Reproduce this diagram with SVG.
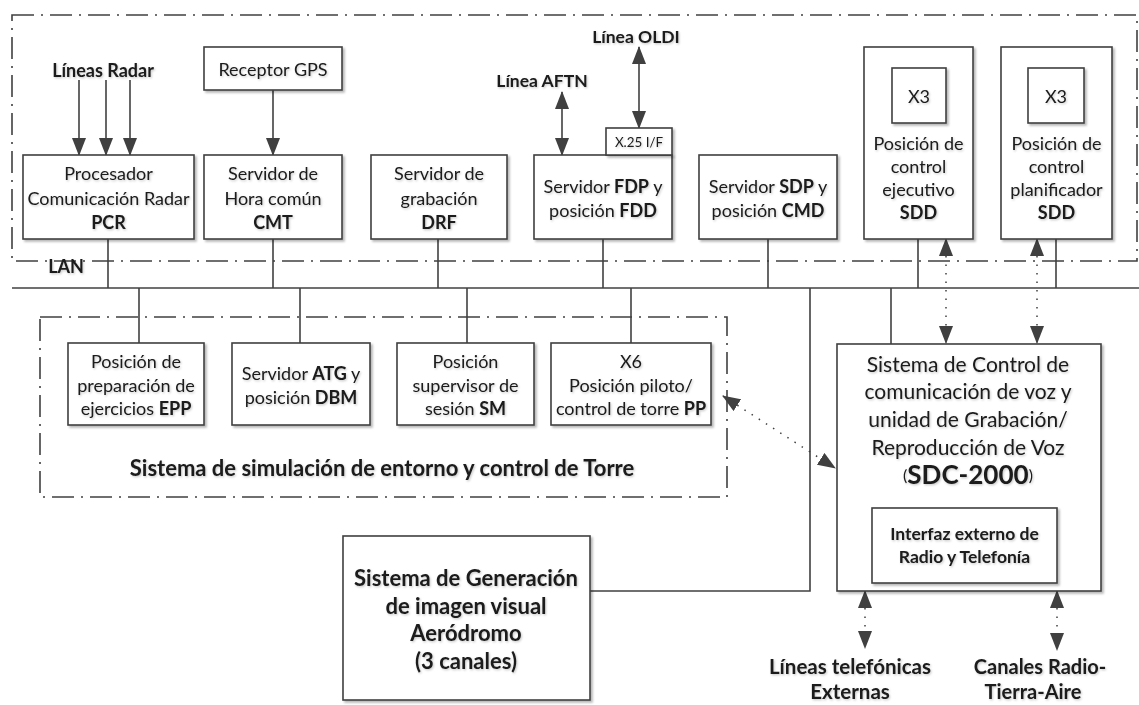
<svg xmlns="http://www.w3.org/2000/svg" width="1139" height="705" viewBox="0 0 1139 705">
  <defs>
    <filter id="sh" x="-10%" y="-10%" width="130%" height="130%">
      <feDropShadow dx="2" dy="2" stdDeviation="1.2" flood-color="#000" flood-opacity="0.28"/>
    </filter>
    <filter id="tsh" x="-5%" y="-20%" width="110%" height="150%">
      <feDropShadow dx="1" dy="1.2" stdDeviation="0.8" flood-color="#000" flood-opacity="0.22"/>
    </filter>
    <marker id="ah" markerUnits="userSpaceOnUse" markerWidth="18" markerHeight="14" refX="17" refY="7" orient="auto-start-reverse">
      <path d="M0,0 L18,7 L0,14 z" fill="#404040"/>
    </marker>
  </defs>
  <style>
    .box{fill:#fff;stroke:#404040;stroke-width:1.6;filter:url(#sh)}
    .grp{fill:none;stroke:#404040;stroke-width:1.6;stroke-dasharray:22 7 2 7}
    .ln{fill:none;stroke:#404040;stroke-width:1.6}
    .dot{fill:none;stroke:#404040;stroke-width:1.5;stroke-dasharray:1.5 7}
    text{font-family:Lato,"Liberation Sans",sans-serif;fill:#1a1a1a;text-anchor:middle;dominant-baseline:central;filter:url(#tsh)}
    .t{font-size:18px}
    .s{font-size:13.4px}
    .m{font-size:21px}
    .lb{font-size:17.5px;font-weight:bold}
    .big{font-size:22px;font-weight:bold}
    .ext{font-size:20.5px;font-weight:bold}
    .b{font-weight:bold}
  </style>

  <!-- grouping frames -->
  <rect class="grp" x="12" y="15" width="1125" height="246"/>
  <rect class="grp" x="40" y="317" width="687" height="180"/>
  <text x="66" y="266" class="lb" style="font-size:18px">LAN</text>
  <text x="382" y="467" class="big">Sistema de simulación de entorno y control de Torre</text>

  <!-- connectors -->
  <g id="connectors">
    <line class="ln" x1="12" y1="288" x2="1139" y2="288"/>
    <line class="ln" x1="108" y1="239" x2="108" y2="288"/>
    <line class="ln" x1="273" y1="239" x2="273" y2="288"/>
    <line class="ln" x1="438" y1="239" x2="438" y2="288"/>
    <line class="ln" x1="603" y1="239" x2="603" y2="288"/>
    <line class="ln" x1="768" y1="239" x2="768" y2="288"/>
    <line class="ln" x1="918" y1="239" x2="918" y2="288"/>
    <line class="ln" x1="1056" y1="239" x2="1056" y2="288"/>
    <line class="ln" x1="139" y1="288" x2="139" y2="343"/>
    <line class="ln" x1="300" y1="288" x2="300" y2="343"/>
    <line class="ln" x1="467" y1="288" x2="467" y2="343"/>
    <line class="ln" x1="631" y1="288" x2="631" y2="343"/>
    <line class="ln" x1="891" y1="288" x2="891" y2="344"/>
    <polyline class="ln" points="590,591 810,591 810,288"/>
    <!-- incoming lines -->
    <line class="ln" x1="79" y1="80" x2="79" y2="155" marker-end="url(#ah)"/>
    <line class="ln" x1="106" y1="80" x2="106" y2="155" marker-end="url(#ah)"/>
    <line class="ln" x1="130" y1="80" x2="130" y2="155" marker-end="url(#ah)"/>
    <line class="ln" x1="273" y1="90" x2="273" y2="155" marker-end="url(#ah)"/>
    <line class="ln" x1="562" y1="92" x2="562" y2="155" marker-start="url(#ah)" marker-end="url(#ah)"/>
    <line class="ln" x1="639" y1="47" x2="639" y2="128" marker-start="url(#ah)" marker-end="url(#ah)"/>
    <!-- voice links -->
    <line class="dot" x1="946" y1="239" x2="946" y2="343" marker-start="url(#ah)" marker-end="url(#ah)"/>
    <line class="dot" x1="1037" y1="239" x2="1037" y2="343" marker-start="url(#ah)" marker-end="url(#ah)"/>
    <line class="dot" x1="723" y1="396" x2="835" y2="468" marker-start="url(#ah)" marker-end="url(#ah)"/>
    <line class="dot" x1="865" y1="591" x2="865" y2="648" marker-start="url(#ah)" marker-end="url(#ah)"/>
    <line class="dot" x1="1057" y1="591" x2="1057" y2="650" marker-start="url(#ah)" marker-end="url(#ah)"/>
  </g>

  <!-- external labels -->
  <text x="103" y="70" class="lb" style="font-size:18px">Líneas Radar</text>
  <text x="542" y="80" class="lb">Línea AFTN</text>
  <text x="636" y="36" class="lb">Línea OLDI</text>
  <text x="850" y="666" class="ext">Líneas telefónicas</text>
  <text x="850" y="691" class="ext">Externas</text>
  <text x="1040" y="666" class="ext" style="font-size:20px">Canales Radio-</text>
  <text x="1033" y="691" class="ext" style="font-size:20px">Tierra-Aire</text>

  <g id="gps">
    <rect class="box" x="204" y="47" width="138" height="43"/>
    <text x="273" y="69" class="t">Receptor GPS</text>
  </g>
  <g id="pcr">
    <rect class="box" x="23" y="155" width="171" height="84"/>
    <text x="108.5" y="173" class="t">Procesador</text>
    <text x="108.5" y="198" class="t">Comunicación Radar</text>
    <text x="108.5" y="222" class="t b">PCR</text>
  </g>
  <g id="cmt">
    <rect class="box" x="204" y="155" width="138" height="84"/>
    <text x="273" y="173" class="t">Servidor de</text>
    <text x="273" y="198" class="t">Hora común</text>
    <text x="273" y="222" class="t b">CMT</text>
  </g>
  <g id="drf">
    <rect class="box" x="371" y="155" width="136" height="84"/>
    <text x="439" y="173" class="t">Servidor de</text>
    <text x="439" y="198" class="t">grabación</text>
    <text x="439" y="222" class="t b">DRF</text>
  </g>
  <g id="fdp">
    <rect class="box" x="534" y="155" width="138" height="84"/>
    <text x="603" y="186" class="t">Servidor <tspan class="b">FDP</tspan> y</text>
    <text x="603" y="210" class="t">posición <tspan class="b">FDD</tspan></text>
  </g>
  <g id="x25">
    <rect class="box" x="606" y="128" width="66" height="27"/>
    <text x="639" y="142" class="s">X.25 I/F</text>
  </g>
  <g id="sdp">
    <rect class="box" x="699" y="155" width="138" height="84"/>
    <text x="768" y="186" class="t">Servidor <tspan class="b">SDP</tspan> y</text>
    <text x="768" y="210" class="t">posición <tspan class="b">CMD</tspan></text>
  </g>
  <g id="sdd-ejecutivo">
    <rect class="box" x="864" y="47" width="109" height="192"/>
    <rect class="box" x="892" y="68" width="54" height="55"/>
    <text x="919" y="96" class="t">X3</text>
    <text x="918.5" y="143" class="t">Posición de</text>
    <text x="918.5" y="166" class="t">control</text>
    <text x="918.5" y="189" class="t">ejecutivo</text>
    <text x="918.5" y="212" class="t b">SDD</text>
  </g>
  <g id="sdd-planificador">
    <rect class="box" x="1001" y="47" width="111" height="192"/>
    <rect class="box" x="1028" y="68" width="56" height="55"/>
    <text x="1056" y="96" class="t">X3</text>
    <text x="1056.5" y="143" class="t">Posición de</text>
    <text x="1056.5" y="166" class="t">control</text>
    <text x="1056.5" y="189" class="t">planificador</text>
    <text x="1056.5" y="212" class="t b">SDD</text>
  </g>
  <g id="epp">
    <rect class="box" x="68" y="343" width="136" height="82"/>
    <text x="136" y="361" class="t">Posición de</text>
    <text x="136" y="385" class="t">preparación de</text>
    <text x="136" y="408" class="t">ejercicios <tspan class="b">EPP</tspan></text>
  </g>
  <g id="atg">
    <rect class="box" x="232" y="343" width="138" height="82"/>
    <text x="301" y="373" class="t">Servidor <tspan class="b">ATG</tspan> y</text>
    <text x="301" y="397" class="t">posición <tspan class="b">DBM</tspan></text>
  </g>
  <g id="sm">
    <rect class="box" x="397" y="343" width="137" height="82"/>
    <text x="465.5" y="361" class="t">Posición</text>
    <text x="465.5" y="385" class="t">supervisor de</text>
    <text x="465.5" y="408" class="t">sesión <tspan class="b">SM</tspan></text>
  </g>
  <g id="pp">
    <rect class="box" x="551" y="343" width="160" height="82"/>
    <text x="631" y="361" class="t">X6</text>
    <text x="631" y="385" class="t">Posición piloto/</text>
    <text x="631" y="408" class="t">control de torre <tspan class="b">PP</tspan></text>
  </g>
  <g id="sdc">
    <rect class="box" x="837" y="344" width="264" height="247"/>
    <text x="968" y="363" class="m">Sistema de Control de</text>
    <text x="968" y="390" class="m">comunicación de voz y</text>
    <text x="968" y="418" class="m">unidad de Grabación/</text>
    <text x="968" y="446" class="m">Reproducción de Voz</text>
    <text x="968" y="474" class="m"><tspan style="font-size:16px">(</tspan><tspan class="b" style="font-size:26px">SDC-2000</tspan><tspan style="font-size:16px">)</tspan></text>
  </g>
  <g id="interfaz">
    <rect class="box" x="872" y="508" width="185" height="75"/>
    <text x="964.5" y="533" class="lb" style="font-size:17.5px">Interfaz externo de</text>
    <text x="964.5" y="556" class="lb" style="font-size:17.5px">Radio y Telefonía</text>
  </g>
  <g id="aerodromo">
    <rect class="box" x="343" y="536" width="247" height="164"/>
    <text x="466" y="577" class="big">Sistema de Generación</text>
    <text x="466" y="605" class="big">de imagen visual</text>
    <text x="466" y="632" class="big">Aeródromo</text>
    <text x="466" y="660" class="big">(3 canales)</text>
  </g>
</svg>
